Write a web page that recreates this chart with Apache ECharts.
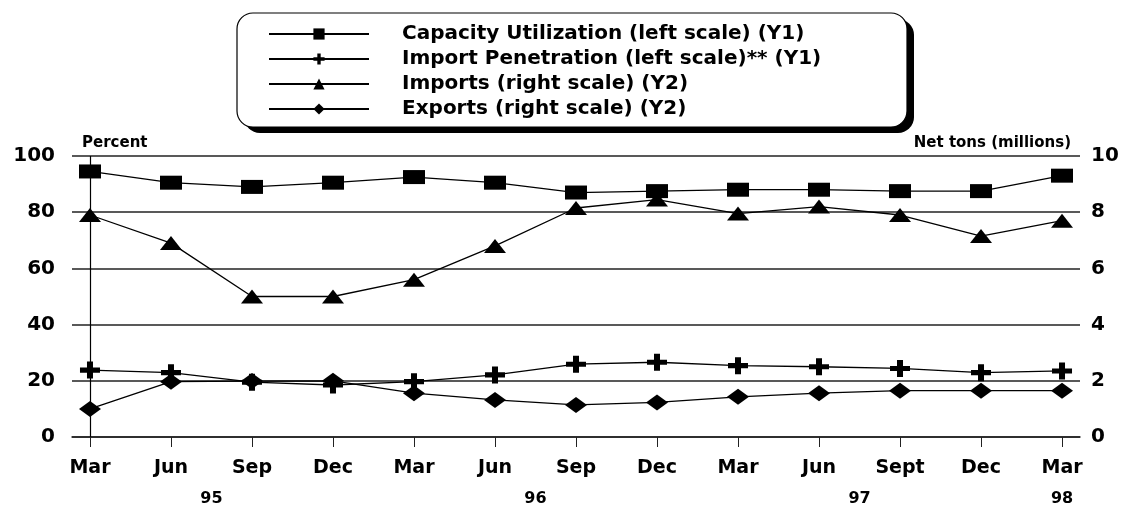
<!DOCTYPE html>
<html>
<head>
<meta charset="utf-8">
<script src="https://cdn.jsdelivr.net/npm/echarts@6/dist/echarts.min.js"></script>
<style>
    html, body { margin: 0; padding: 0; background: #fff; }
    #chart { width: 1123px; height: 506px; }
</style>
</head>
<body>
<div id="chart"></div>
<script>
// quarters, Mar 95 .. Mar 98
const categories = ['Mar', 'Jun', 'Sep', 'Dec', 'Mar', 'Jun', 'Sep', 'Dec', 'Mar', 'Jun', 'Sept', 'Dec', 'Mar'];
const yearLabels = ['95', '96', '97', '98'];
const yearPositions = [1.5, 5.5, 9.5, 12];

// left scale, percent
const capacityUtilization = [94.5, 90.5, 89, 90.5, 92.5, 90.5, 87, 87.5, 88, 88, 87.5, 87.5, 93];
const importPenetration = [23.8, 22.9, 19.5, 18.5, 19.7, 22.1, 25.9, 26.6, 25.4, 25, 24.4, 22.9, 23.5];
// right scale, net tons (millions)
const imports = [7.9, 6.9, 5.0, 5.0, 5.6, 6.8, 8.15, 8.45, 7.95, 8.2, 7.9, 7.15, 7.7];
const exports = [1.0, 1.97, 1.99, 2.0, 1.56, 1.32, 1.14, 1.23, 1.43, 1.56, 1.65, 1.65, 1.65];

const leftTicks = [0, 20, 40, 60, 80, 100];
const rightTicks = [0, 2, 4, 6, 8, 10];

const FONT = 'DejaVu Sans';
const crossPath = 'path://M7,0h6v7h7v6h-7v7h-6v-7h-7v-6h7z';

const pairs = arr => arr.map((v, i) => [i, v]);
const tickIndex = categories.map((c, i) => i);

const chart = echarts.init(document.getElementById('chart'), null, { renderer: 'canvas' });

function lineSeries(name, data, yIdx, symbol, size) {
    return {
        name: name,
        type: 'line',
        yAxisIndex: yIdx,
        data: pairs(data),
        symbol: symbol,
        symbolSize: size,
        showAllSymbol: true,
        itemStyle: { color: '#000' },
        lineStyle: { color: '#000', width: 1.3 },
        emphasis: { disabled: true }
    };
}

const series = [
    lineSeries('Capacity Utilization (left scale) (Y1)', capacityUtilization, 0, 'rect', [22, 14]),
    lineSeries('Import Penetration (left scale)** (Y1)', importPenetration, 0, crossPath, [20, 17]),
    lineSeries('Imports (right scale) (Y2)', imports, 1, 'triangle', [22, 14]),
    lineSeries('Exports (right scale) (Y2)', exports, 1, 'diamond', [22, 16])
];
// vertical line at the first quarter
series[0].markLine = {
    silent: true,
    symbol: 'none',
    label: { show: false },
    lineStyle: { color: '#000', width: 1.2, type: 'solid' },
    data: [[{ coord: [0, leftTicks[0]] }, { coord: [0, leftTicks[leftTicks.length - 1]] }]]
};

const nameStyle = {
    fontFamily: FONT,
    fontWeight: 'bold',
    fontSize: 15,
    color: '#000'
};

const option = {
    animation: false,
    backgroundColor: '#fff',
    title: [
        { text: 'Percent', left: 82, top: 136, padding: 0, textStyle: nameStyle },
        { text: 'Net tons (millions)', right: 52, top: 136, padding: 0, textStyle: nameStyle }
    ],
    // legend frame with its drop shadow
    graphic: [
        {
            type: 'rect',
            z: 1,
            silent: true,
            shape: { x: 244, y: 19, width: 670, height: 114, r: 16 },
            style: { fill: '#000' }
        },
        {
            type: 'rect',
            z: 2,
            silent: true,
            shape: { x: 237, y: 13, width: 670, height: 114, r: 16 },
            style: { fill: '#fff', stroke: '#000', lineWidth: 1.2 }
        }
    ],
    legend: {
        orient: 'vertical',
        left: 237,
        top: 13,
        z: 10,
        padding: [11, 40, 16, 31],
        itemWidth: 100,
        itemHeight: 14,
        itemGap: 5,
        textStyle: {
            fontFamily: FONT,
            fontWeight: 'bold',
            fontSize: 20,
            color: '#000',
            padding: [0, 0, 0, 28]
        },
        selectedMode: false
    },
    grid: {
        left: 72,
        right: 43,
        top: 156,
        bottom: 69,
        containLabel: false,
        outerBoundsMode: 'none'
    },
    xAxis: [
        {
            type: 'value',
            min: -0.222,
            max: 12.222,
            splitLine: { show: false },
            axisLine: { show: true, lineStyle: { color: '#222', width: 1.5 } },
            axisTick: {
                show: true,
                customValues: tickIndex,
                length: 10,
                lineStyle: { color: '#222', width: 1 }
            },
            axisLabel: {
                customValues: tickIndex,
                formatter: v => categories[Math.round(v)],
                margin: 22,
                fontFamily: FONT,
                fontWeight: 'bold',
                fontSize: 19,
                color: '#000'
            }
        },
        {
            type: 'value',
            position: 'bottom',
            min: -0.222,
            max: 12.222,
            splitLine: { show: false },
            axisLine: { show: false },
            axisTick: { show: false },
            axisLabel: {
                customValues: yearPositions,
                formatter: v => yearLabels[yearPositions.indexOf(v)],
                margin: 54,
                fontFamily: FONT,
                fontWeight: 'bold',
                fontSize: 16,
                color: '#000'
            }
        }
    ],
    yAxis: [
        {
            type: 'value',
            min: leftTicks[0],
            max: leftTicks[leftTicks.length - 1],
            interval: 20,
            axisLine: { show: false },
            axisTick: { show: false },
            splitLine: { lineStyle: { color: '#222', width: 1.5 } },
            axisLabel: {
                margin: 17,
                fontFamily: FONT,
                fontWeight: 'bold',
                fontSize: 20,
                color: '#000'
            }
        },
        {
            type: 'value',
            min: rightTicks[0],
            max: rightTicks[rightTicks.length - 1],
            interval: 2,
            position: 'right',
            axisLine: { show: false },
            axisTick: { show: false },
            splitLine: { show: false },
            axisLabel: {
                margin: 11,
                fontFamily: FONT,
                fontWeight: 'bold',
                fontSize: 20,
                color: '#000'
            }
        }
    ],
    series: series
};

chart.setOption(option);
</script>
</body>
</html>
